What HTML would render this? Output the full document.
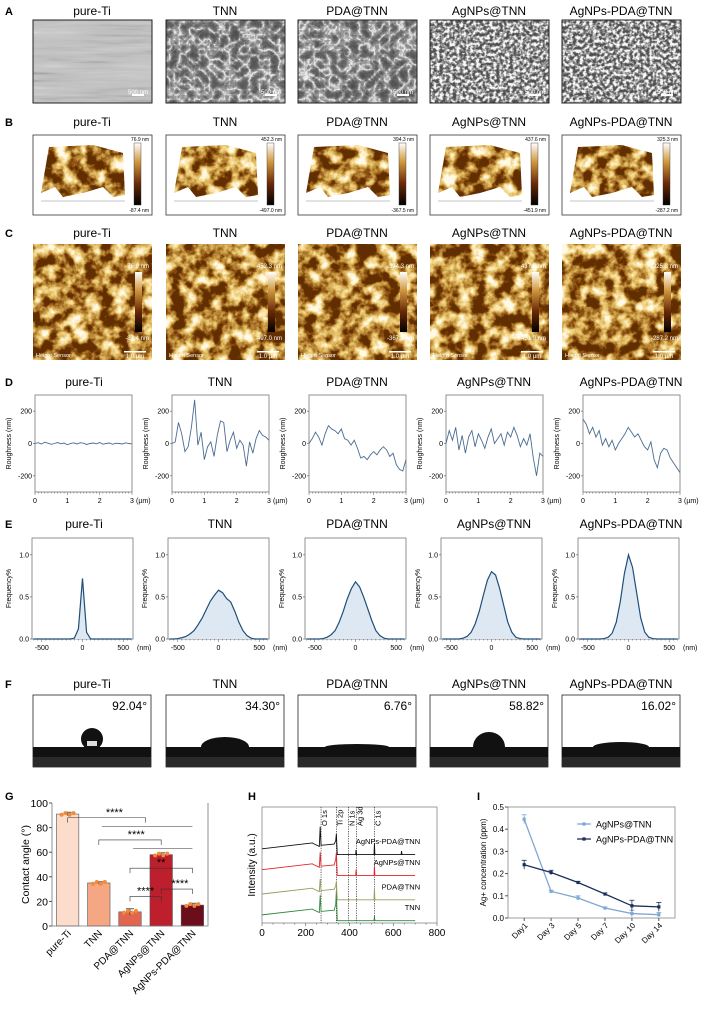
<!DOCTYPE html>
<html><head><meta charset="utf-8">
<style>
html,body{margin:0;padding:0;background:#fff;}
svg{display:block;font-family:"Liberation Sans",Arial,sans-serif;}
</style></head>
<body>
<svg id="fig" width="715" height="1017" viewBox="0 0 715 1017" xmlns="http://www.w3.org/2000/svg">
<defs>
<filter id="semPure" x="0" y="0" width="1" height="1">
  <feTurbulence type="fractalNoise" baseFrequency="0.012 0.2" numOctaves="3" seed="3"/>
  <feColorMatrix type="matrix" values="1 0 0 0 0 1 0 0 0 0 1 0 0 0 0 0 0 0 0 1"/>
  <feComponentTransfer><feFuncR type="table" tableValues="0.15 0.4 0.52 0.56 0.62 0.8"/><feFuncG type="table" tableValues="0.15 0.4 0.52 0.56 0.62 0.8"/><feFuncB type="table" tableValues="0.15 0.4 0.52 0.56 0.62 0.8"/></feComponentTransfer>
</filter>
<filter id="semNet" x="0" y="0" width="1" height="1">
  <feTurbulence type="turbulence" baseFrequency="0.1" numOctaves="3" seed="7"/>
  <feColorMatrix type="matrix" values="1 0 0 0 0 1 0 0 0 0 1 0 0 0 0 0 0 0 0 1"/>
  <feComponentTransfer><feFuncR type="table" tableValues="1 0.35 0.15 0.1 0.08 0.05"/><feFuncG type="table" tableValues="1 0.35 0.15 0.1 0.08 0.05"/><feFuncB type="table" tableValues="1 0.35 0.15 0.1 0.08 0.05"/></feComponentTransfer>
</filter>
<filter id="semGrain" x="0" y="0" width="1" height="1">
  <feTurbulence type="fractalNoise" baseFrequency="0.3" numOctaves="2" seed="11"/>
  <feColorMatrix type="matrix" values="1 0 0 0 0 1 0 0 0 0 1 0 0 0 0 0 0 0 0 1"/>
  <feComponentTransfer><feFuncR type="linear" slope="3" intercept="-1"/><feFuncG type="linear" slope="3" intercept="-1"/><feFuncB type="linear" slope="3" intercept="-1"/></feComponentTransfer>
  <feComponentTransfer><feFuncR type="table" tableValues="0.08 0.15 0.3 0.6 0.95"/><feFuncG type="table" tableValues="0.08 0.15 0.3 0.6 0.95"/><feFuncB type="table" tableValues="0.08 0.15 0.3 0.6 0.95"/></feComponentTransfer>
</filter>
<filter id="afm" x="0" y="0" width="1" height="1">
  <feTurbulence type="fractalNoise" baseFrequency="0.07" numOctaves="4" seed="5"/>
  <feColorMatrix type="matrix" values="1 0 0 0 0 1 0 0 0 0 1 0 0 0 0 0 0 0 0 1"/>
  <feComponentTransfer><feFuncR type="linear" slope="2.6" intercept="-0.95"/><feFuncG type="linear" slope="2.6" intercept="-0.95"/><feFuncB type="linear" slope="2.6" intercept="-0.95"/></feComponentTransfer>
  <feComponentTransfer><feFuncR type="table" tableValues="0.12 0.3 0.55 0.8 0.95 1"/><feFuncG type="table" tableValues="0.03 0.1 0.3 0.55 0.75 0.95"/><feFuncB type="table" tableValues="0 0.01 0.05 0.15 0.35 0.8"/></feComponentTransfer>
</filter>
<linearGradient id="cbar" x1="0" y1="1" x2="0" y2="0">
  <stop offset="0" stop-color="#000"/><stop offset="0.35" stop-color="#6b2a08"/><stop offset="0.7" stop-color="#d19a40"/><stop offset="1" stop-color="#fff"/>
</linearGradient>
</defs>
</svg>
<script>
const NS="http://www.w3.org/2000/svg";
const fig=document.getElementById('fig');
function mk(tag,attrs,parent,txt){const e=document.createElementNS(NS,tag);for(const k in attrs)e.setAttribute(k,attrs[k]);if(txt!==undefined)e.textContent=txt;(parent||fig).appendChild(e);return e;}

// ---------- data ----------
const groups=["pure-Ti","TNN","PDA@TNN","AgNPs@TNN","AgNPs-PDA@TNN"];
const colX=[33,166,298,430,562];
const afmMax=["76.9 nm","452.3 nm","394.3 nm","437.6 nm","325.3 nm"];
const afmMin=["-87.4 nm","-497.0 nm","-367.5 nm","-451.9 nm","-287.2 nm"];
const contactLabels=["92.04°","34.30°","6.76°","58.82°","16.02°"];
const roughX=[0,0.1,0.2,0.3,0.4,0.5,0.6,0.7,0.8,0.9,1.0,1.1,1.2,1.3,1.4,1.5,1.6,1.7,1.8,1.9,2.0,2.1,2.2,2.3,2.4,2.5,2.6,2.7,2.8,2.9,3.0];
const roughPure=[0,5,-3,8,2,-5,0,6,-2,3,-8,0,4,-3,5,2,-6,0,3,-2,6,-4,0,3,-5,2,0,-3,4,0,-2];
const roughTNN=[0,10,130,60,-50,-20,100,270,-10,70,-100,-20,10,-80,50,140,130,-50,20,70,-30,20,-10,-140,10,-60,30,80,50,40,20];
const roughPDA=[0,30,70,40,-10,60,110,90,80,60,90,30,20,-10,20,-30,-90,-80,-100,-70,-50,-70,-40,-20,-40,-80,-60,-130,-160,-170,-100];
const roughAg=[0,80,20,100,-40,50,-60,40,80,-20,60,20,-30,40,90,0,30,60,-10,70,40,100,50,-20,30,-10,60,-90,-200,-60,-80];
const roughAgPDA=[150,120,60,100,40,80,-10,30,-20,20,-40,0,30,60,100,70,40,60,20,-20,-40,10,-100,-150,-60,-30,-40,-90,-120,-150,-180];
const roughSeries=[roughPure,roughTNN,roughPDA,roughAg,roughAgPDA];
const freqX=[-600,-550,-500,-450,-400,-350,-300,-250,-200,-150,-100,-50,0,50,100,150,200,250,300,350,400,450,500,550,600];
const freqPure=[0,0,0,0,0,0,0,0,0,0,0.01,0.12,0.72,0.08,0,0,0,0,0,0,0,0,0,0,0];
const freqTNN=[0,0,0.005,0.015,0.03,0.06,0.1,0.17,0.25,0.35,0.45,0.52,0.58,0.55,0.48,0.44,0.33,0.2,0.1,0.04,0.01,0,0,0,0];
const freqPDA=[0,0,0,0,0.005,0.02,0.05,0.1,0.2,0.33,0.48,0.6,0.68,0.62,0.5,0.36,0.22,0.1,0.04,0.01,0,0,0,0,0];
const freqAg=[0,0,0,0,0,0.01,0.03,0.08,0.18,0.33,0.52,0.7,0.8,0.76,0.6,0.4,0.2,0.08,0.02,0.005,0,0,0,0,0];
const freqAgPDA=[0,0,0,0,0,0,0.005,0.02,0.07,0.2,0.45,0.78,1.0,0.85,0.55,0.25,0.08,0.02,0.005,0,0,0,0,0,0];
const freqSeries=[freqPure,freqTNN,freqPDA,freqAg,freqAgPDA];
const contactMeans=[91,35,11.5,58,17];
const contactErr=[1.5,1,2.5,1.5,1.5];
const contactTicks=[0,20,40,60,80,100];
const xpsX=[0,230,240,262,266,270,330,337,340,344,428,430,432,512,514,516,636,638,640,700];
const xpsTNN=[0.35,0.6,0.55,0.45,1.2,0.5,0.55,0.8,1.4,0.1,0.1,0.12,0.1,0.1,0.3,0.1,0.1,0.1,0.1,0.1];
const xpsPDA=[0.35,0.6,0.55,0.45,1.0,0.5,0.55,0.7,0.9,0.1,0.1,0.1,0.1,0.1,0.6,0.1,0.1,0.1,0.1,0.1];
const xpsAg=[0.35,0.6,0.55,0.45,1.1,0.5,0.55,0.8,1.1,0.1,0.1,0.35,0.1,0.1,0.5,0.1,0.1,0.1,0.1,0.1];
const xpsAgPDA=[0.35,0.6,0.55,0.45,1.3,0.5,0.55,0.7,1.0,0.1,0.1,0.3,0.1,0.1,0.6,0.1,0.1,0.25,0.1,0.1];
const xpsOffsets=[0,0.9,1.95,2.85];
const xpsNames=["TNN","PDA@TNN","AgNPs@TNN","AgNPs-PDA@TNN"];
const xpsPeaks=[270,340,395,432,515];
const xpsPeakNames=["O 1s","Ti 2p","N 1s","Ag 3d","C 1s"];
const xpsTicks=[0,200,400,600,800];
const days=["Day1","Day 3","Day 5","Day 7","Day 10","Day 14"];
const agTNN=[0.445,0.12,0.09,0.045,0.02,0.015];
const agTNNErr=[0.02,0.005,0.01,0.005,0.015,0.01];
const agPDA=[0.24,0.205,0.16,0.108,0.055,0.05];
const agPDAErr=[0.02,0.01,0.005,0.005,0.025,0.02];
const agTicks=[0.0,0.1,0.2,0.3,0.4,0.5];

// ---------- panel letters and titles ----------
const rows=[["A",15],["B",126],["C",237],["D",386],["E",528],["F",688]];
rows.forEach(([L,y])=>{
  const t=mk('text',{x:5,y:y,'font-size':11,'font-weight':'bold'},fig,L);
  
  
  groups.forEach((g,i)=>{
    const cx=(L==="D"||L==="E")?[84,220,357,494,631][i]:colX[i]+59;
    const tt=mk('text',{x:cx,y:y,'font-size':12,'text-anchor':'middle'},fig,g);
    
    
  });
});

// ---------- A: SEM ----------
groups.forEach((g,i)=>{
  const x=colX[i],y=20,w=119,h=83;
  const gg=mk('g',{},fig);
  
  
  mk('rect',{x:x,y:y,width:w,height:h,fill:'#777',filter:i===0?'url(#semPure)':(i<=2?'url(#semNet)':'url(#semGrain)')},gg);
  mk('rect',{x:x,y:y,width:w,height:h,fill:'none',stroke:'#222','stroke-width':1},gg);
  mk('rect',{x:x+w-20,y:y+h-9,width:12,height:2,fill:'#fff'},gg);
  mk('text',{x:x+w-4,y:y+h-9,'font-size':6,fill:'#fff','text-anchor':'end'},gg,'500 nm');
});

// ---------- B: AFM 3D ----------
groups.forEach((g,i)=>{
  const x=colX[i],y=135,w=119,h=80;
  const gg=mk('g',{},fig);
  
  
  mk('rect',{x:x,y:y,width:w,height:h,fill:'#fff',stroke:'#333','stroke-width':0.8},gg);
  const cp=mk('clipPath',{id:'clipB'+i},gg);
  mk('path',{d:`M${x+8} ${y+58} L${x+16} ${y+12} L${x+60} ${y+10} L${x+90} ${y+18} L${x+92} ${y+60} L${x+80} ${y+62} L${x+70} ${y+52} L${x+50} ${y+58} L${x+30} ${y+62} L${x+22} ${y+52} Z`},cp);
  mk('rect',{x:x+6,y:y+8,width:90,height:58,fill:'#a60','clip-path':`url(#clipB${i})`,filter:'url(#afm)'},gg);
  mk('path',{d:`M${x+8} ${y+66} L${x+92} ${y+66}`,stroke:'#888','stroke-width':0.5},gg);
  mk('rect',{x:x+101,y:y+8,width:7,height:62,fill:'url(#cbar)',stroke:'#333','stroke-width':0.4},gg);
  mk('text',{x:x+116,y:y+6,'font-size':5,'text-anchor':'end'},gg,afmMax[i]);
  mk('text',{x:x+116,y:y+77,'font-size':5,'text-anchor':'end'},gg,afmMin[i]);
});

// ---------- C: AFM height ----------
groups.forEach((g,i)=>{
  const x=colX[i],y=244,w=119,h=116;
  const gg=mk('g',{},fig);
  
  
  mk('rect',{x:x,y:y,width:w,height:h,fill:'#a60',filter:'url(#afm)'},gg);
  mk('rect',{x:x+w-17,y:y+28,width:7,height:60,fill:'url(#cbar)'},gg);
  mk('text',{x:x+w-3,y:y+24,'font-size':6,fill:'#fff','text-anchor':'end'},gg,afmMax[i]);
  mk('text',{x:x+w-3,y:y+96,'font-size':6,fill:'#fff','text-anchor':'end'},gg,afmMin[i]);
  mk('text',{x:x+3,y:y+h-3,'font-size':5.5,fill:'#fff'},gg,'Height Sensor');
  mk('rect',{x:x+w-28,y:y+h-9,width:22,height:1.5,fill:'#fff'},gg);
  mk('text',{x:x+w-17,y:y+h-2,'font-size':6,fill:'#fff','text-anchor':'middle'},gg,'1.0 µm');
});

// ---------- D: roughness ----------
const dX=[35,172,309,446,583], dW=97, dTop=395, dBot=492;
roughSeries.forEach((s,i)=>{
  const x0=dX[i];
  const sx=v=>x0+v/3*dW, sy=v=>dBot-(v+300)/600*(dBot-dTop);
  const gg=mk('g',{},fig);
  
  
  mk('rect',{x:x0,y:dTop,width:dW,height:dBot-dTop,fill:'none',stroke:'#777','stroke-width':0.8},gg);
  [-200,0,200].forEach(t=>{mk('line',{x1:x0-2,x2:x0,y1:sy(t),y2:sy(t),stroke:'#555','stroke-width':0.6},gg);
    mk('text',{x:x0-3,y:sy(t)+2.5,'font-size':7,'text-anchor':'end'},gg,String(t));});
  for(let k=0;k<=30;k++){const xx=sx(k/10);mk('line',{x1:xx,x2:xx,y1:dBot,y2:dBot+(k%10?1.5:3),stroke:'#555','stroke-width':0.5},gg);}
  [0,1,2,3].forEach(t=>mk('text',{x:sx(t),y:dBot+11,'font-size':7,'text-anchor':'middle'},gg,String(t)));
  mk('text',{x:x0+dW+4,y:dBot+11,'font-size':7},gg,'(µm)');
  const yl=mk('text',{x:0,y:0,'font-size':7,'text-anchor':'middle',transform:`translate(${x0-24},${(dTop+dBot)/2}) rotate(-90)`},gg,'Roughness (nm)');
  
  
  const p=mk('polyline',{points:s.map((v,k)=>sx(roughX[k])+','+sy(v)).join(' '),fill:'none',stroke:'#4a6c90','stroke-width':0.9},gg);
  
  
});

// ---------- E: height distribution ----------
const eX=[32,168,305,441,578], eW=101, eTop=538, eBot=639;
freqSeries.forEach((s,i)=>{
  const x0=eX[i];
  const sx=v=>x0+(v+620)/1240*eW, sy=v=>eBot-v/1.2*(eBot-eTop);
  const gg=mk('g',{},fig);
  
  
  mk('rect',{x:x0,y:eTop,width:eW,height:eBot-eTop,fill:'none',stroke:'#777','stroke-width':0.8},gg);
  [0,0.5,1].forEach(t=>{mk('line',{x1:x0-2,x2:x0,y1:sy(t),y2:sy(t),stroke:'#555','stroke-width':0.6},gg);
    mk('text',{x:x0-3,y:sy(t)+2.5,'font-size':7,'text-anchor':'end'},gg,t.toFixed(1));});
  for(let v=-600;v<=600;v+=50){mk('line',{x1:sx(v),x2:sx(v),y1:eBot,y2:eBot+(v%500?1.5:3),stroke:'#555','stroke-width':0.5},gg);}
  [-500,0,500].forEach(t=>mk('text',{x:sx(t),y:eBot+11,'font-size':7,'text-anchor':'middle'},gg,String(t)));
  mk('text',{x:x0+eW+4,y:eBot+11,'font-size':7},gg,'(nm)');
  const yl=mk('text',{x:0,y:0,'font-size':7,'text-anchor':'middle',transform:`translate(${x0-21},${(eTop+eBot)/2}) rotate(-90)`},gg,'Frequency%');
  
  
  const pts=s.map((v,k)=>sx(freqX[k])+','+sy(v));
  const a=mk('polygon',{points:sx(-600)+','+eBot+' '+pts.join(' ')+' '+sx(600)+','+eBot,fill:'#dde8f2'},gg);
  
  
  const p=mk('polyline',{points:pts.join(' '),fill:'none',stroke:'#1f4e7a','stroke-width':1.2},gg);
  
  
});

// ---------- F: contact angle images ----------
const dropW=[14,24,32,16,28], dropH=[20,10,3,15,5];
groups.forEach((g,i)=>{
  const x=[33,166,298,430,562][i],y=695,w=118,h=72;
  const gg=mk('g',{},fig);
  
  
  mk('rect',{x:x,y:y,width:w,height:h,fill:'#fff',stroke:'#222','stroke-width':0.8},gg);
  mk('rect',{x:x,y:y+h-20,width:w,height:20,fill:'#111'},gg);
  mk('rect',{x:x,y:y+h-10,width:w,height:10,fill:'#2a2a2a'},gg);
  const cx=x+w/2, by=y+h-20;
  if(i===0){mk('circle',{cx:cx,cy:by-8,r:11,fill:'#111'},gg);mk('rect',{x:cx-5,y:by-6,width:10,height:5,fill:'#ddd'},gg);}
  else mk('path',{d:`M${cx-dropW[i]} ${by} A${dropW[i]} ${dropH[i]} 0 0 1 ${cx+dropW[i]} ${by} Z`,fill:'#111'},gg);
  mk('text',{x:x+w-4,y:y+15,'font-size':12,'text-anchor':'end'},gg,contactLabels[i]);
});

// ---------- G: contact angle bars ----------
(function(){
  const L=52,R=208,T=803,B=926;
  const sy=v=>B-v/100*(B-T);
  const bw=(R-L)/5, sx=i=>L+bw*(i+0.5);
  const colors=['#fcdccb','#f5a683','#e2654f','#bd1f2d','#6c0d1c'];
  const gg=mk('g',{},fig);
  
  
  const t=mk('text',{x:5,y:800,'font-size':11,'font-weight':'bold'},gg,'G');
  
  
  contactMeans.forEach((v,i)=>{
    const b=mk('rect',{x:sx(i)-bw*0.36,y:sy(v),width:bw*0.72,height:B-sy(v),fill:colors[i],stroke:'#555','stroke-width':0.6},gg);
    
    
    mk('line',{x1:sx(i),x2:sx(i),y1:sy(v+contactErr[i]),y2:sy(v-contactErr[i]),stroke:'#333','stroke-width':0.8},gg);
    mk('line',{x1:sx(i)-4,x2:sx(i)+4,y1:sy(v+contactErr[i]),y2:sy(v+contactErr[i]),stroke:'#333','stroke-width':0.8},gg);
    [-6,-2,2,6].forEach((d,k)=>mk('circle',{cx:sx(i)+d,cy:sy(v+(k%2?0.8:-0.6)),r:2,fill:'#f08a3c'},gg));
    const lb=mk('text',{x:0,y:0,'font-size':10,'text-anchor':'end',transform:`translate(${sx(i)+4},${B+8}) rotate(-45)`},gg,groups[i]);
    
    
  });
  mk('path',{d:`M${L} ${T} L${L} ${B} L${R} ${B} L${R} ${T}`,fill:'none',stroke:'#777','stroke-width':0.8},gg);
  contactTicks.forEach(v=>{mk('line',{x1:L-3,x2:L,y1:sy(v),y2:sy(v),stroke:'#555'},gg);
    mk('text',{x:L-4,y:sy(v)+4,'font-size':10.5,'text-anchor':'end'},gg,String(v));});
  const yl=mk('text',{x:0,y:0,'font-size':10.5,'text-anchor':'middle',transform:`translate(${L-23},${(T+B)/2}) rotate(-90)`},gg,'Contact angle (°)');
  
  
  const br=(a,b,yv,lbl,lx)=>{mk('path',{d:`M${sx(a)} ${sy(yv-4)} L${sx(a)} ${sy(yv)} L${sx(b)} ${sy(yv)} L${sx(b)} ${sy(yv-4)}`,fill:'none',stroke:'#333','stroke-width':0.6},gg);
    if(lbl)mk('text',{x:lx,y:sy(yv)-2,'font-size':11,'text-anchor':'middle'},gg,lbl);};
  br(0,2.5,88,'****',sx(1.5));
  mk('line',{x1:sx(1.1),x2:sx(4),y1:sy(81),y2:sy(81),stroke:'#333','stroke-width':0.6},gg);
  br(1,3,70,'****',sx(2.2));
  mk('line',{x1:sx(2.1),x2:sx(4),y1:sy(63),y2:sy(63),stroke:'#333','stroke-width':0.6},gg);
  br(2,4,47,'**',sx(3));
  br(2,3,24,'****',sx(2.5));
  br(3,4,30,'****',sx(3.6));
})();

// ---------- H: XPS ----------
(function(){
  const L=262,R=437,T=807,B=923;
  const sx=v=>L+v/800*(R-L), sy=v=>B-v/5*(B-T);
  const gg=mk('g',{},fig);
  
  
  const t=mk('text',{x:248,y:800,'font-size':11,'font-weight':'bold'},gg,'H');
  
  
  mk('rect',{x:L,y:T,width:R-L,height:B-T,fill:'none',stroke:'#888','stroke-width':0.8},gg);
  xpsPeaks.forEach((p,k)=>{mk('line',{x1:sx(p),x2:sx(p),y1:T,y2:B,stroke:'#222','stroke-width':0.7,'stroke-dasharray':'1.2,1.2'},gg);
    mk('text',{x:0,y:0,'font-size':7.5,transform:`translate(${sx(p)+6},${T+19}) rotate(-90)`},gg,xpsPeakNames[k]);});
  const cols=['#2f8a3e','#9a9a60','#e0262c','#111'];
  [xpsTNN,xpsPDA,xpsAg,xpsAgPDA].forEach((s,k)=>{
    const p=mk('polyline',{points:s.map((v,j)=>sx(xpsX[j])+','+sy(v+xpsOffsets[k])).join(' '),fill:'none',stroke:cols[k],'stroke-width':0.9},gg);
    
    
    mk('text',{x:sx(700)+5,y:sy(xpsOffsets[k]+0.55),'font-size':7.5,'text-anchor':'end'},gg,xpsNames[k]);
  });
  for(let v=0;v<=800;v+=50)mk('line',{x1:sx(v),x2:sx(v),y1:B,y2:B+(v%200?1.5:3),stroke:'#555','stroke-width':0.6},gg);
  xpsTicks.forEach(v=>mk('text',{x:sx(v),y:B+13,'font-size':10,'text-anchor':'middle'},gg,String(v)));
  const yl=mk('text',{x:0,y:0,'font-size':10,'text-anchor':'middle',transform:`translate(${L-7},${(T+B)/2}) rotate(-90)`},gg,'Intensity (a.u.)');
  
  
})();

// ---------- I: Ag release ----------
(function(){
  const L=508,R=675,T=807,B=918;
  const sy=v=>B-v/0.5*(B-T);
  const step=(R-L)/6.2, sx=i=>L+step*(i+0.6);
  const gg=mk('g',{},fig);
  
  
  const t=mk('text',{x:477,y:800,'font-size':11,'font-weight':'bold'},gg,'I');
  
  
  mk('rect',{x:L,y:T,width:R-L,height:B-T,fill:'none',stroke:'#888','stroke-width':0.8},gg);
  agTicks.forEach(v=>{mk('line',{x1:L-3,x2:L,y1:sy(v),y2:sy(v),stroke:'#555'},gg);
    mk('text',{x:L-4,y:sy(v)+3,'font-size':8,'text-anchor':'end'},gg,v.toFixed(1));});
  days.forEach((d,i)=>{mk('line',{x1:sx(i),x2:sx(i),y1:B,y2:B+3,stroke:'#555'},gg);
    const lb=mk('text',{x:0,y:0,'font-size':8,'text-anchor':'end',transform:`translate(${sx(i)+4},${B+8}) rotate(-45)`},gg,d);
    
    });
  const series=[[agTNN,agTNNErr,'#7ea8d2','AgNPs@TNN'],[agPDA,agPDAErr,'#1b2f5c','AgNPs-PDA@TNN']];
  series.forEach(([vals,err,c,name],k)=>{
    vals.forEach((v,i)=>{mk('line',{x1:sx(i),x2:sx(i),y1:sy(v+err[i]),y2:sy(Math.max(0,v-err[i])),stroke:c,'stroke-width':0.8},gg);
      mk('line',{x1:sx(i)-2.5,x2:sx(i)+2.5,y1:sy(v+err[i]),y2:sy(v+err[i]),stroke:c,'stroke-width':0.8},gg);
      mk('rect',{x:sx(i)-1.6,y:sy(v)-1.6,width:3.2,height:3.2,fill:c},gg);});
    const p=mk('polyline',{points:vals.map((v,i)=>sx(i)+','+sy(v)).join(' '),fill:'none',stroke:c,'stroke-width':1.3},gg);
    
    
    const lg=mk('g',{},gg);
    
    
    const ly=T+17+k*15;
    mk('line',{x1:577,x2:591,y1:ly,y2:ly,stroke:c,'stroke-width':1.3},lg);
    mk('rect',{x:582.4,y:ly-1.6,width:3.2,height:3.2,fill:c},lg);
    mk('text',{x:596,y:ly+3.5,'font-size':9},lg,name);
  });
  const yl=mk('text',{x:0,y:0,'font-size':8,'text-anchor':'middle',transform:`translate(${L-22},${(T+B)/2}) rotate(-90)`},gg,'Ag+ concentration (ppm)');
  
  
})();
</script>
</body></html>
